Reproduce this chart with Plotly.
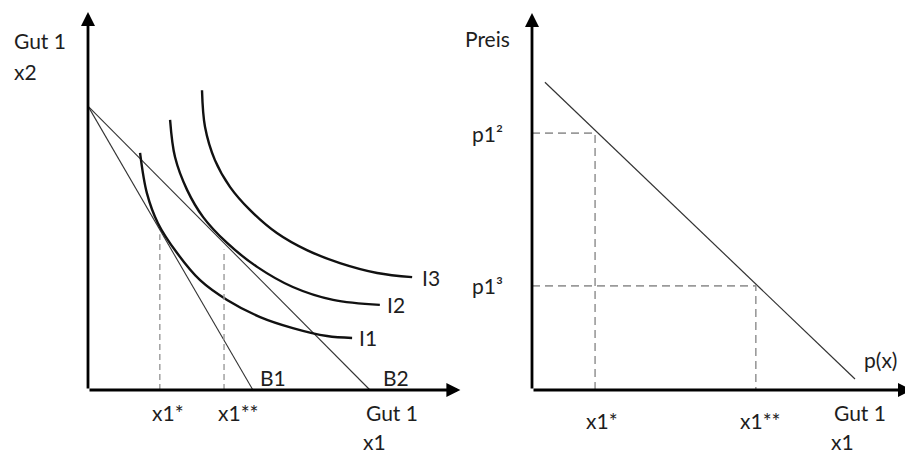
"""Haushaltsoptimum und Nachfragekurve - zwei Skizzen nebeneinander"""

import plotly.graph_objects as go

# linke Skizze: Budgetgeraden
budget_y0 = 7.47
b1_x = 4.34
b2_x = 7.42

i1_x = [1.37, 1.55, 1.84, 2.34, 2.95, 3.66, 4.53, 5.39, 6.29, 6.95]
i1_y = [6.24, 5.18, 4.39, 3.61, 2.89, 2.37, 1.92, 1.63, 1.42, 1.37]
i2_x = [2.16, 2.29, 2.61, 3.03, 3.66, 4.45, 5.39, 6.45, 7.68]
i2_y = [7.11, 6.13, 5.26, 4.55, 3.87, 3.24, 2.71, 2.37, 2.24]
i3_x = [3.00, 3.08, 3.34, 3.74, 4.26, 4.97, 5.76, 6.63, 7.61, 8.53]
i3_y = [7.89, 6.92, 6.05, 5.34, 4.74, 4.13, 3.68, 3.34, 3.08, 2.97]

# Optimalpunkte links
opt_x = [1.89, 3.58]
opt_y = [4.1, 3.7]
opt_labels = ["x1*", "x1**"]

# rechte Skizze: Nachfragekurve p(x)
demand_x = [0.34, 8.5]
demand_y = [8.1, 0.29]
price_x = [1.66, 5.89]
price_y = [6.76, 2.74]
price_labels = ["p1²", "p1³"]
qty_labels = ["x1*", "x1**"]

# Seite hat 8px Rand -> Figur etwas kleiner
W, H = 905, 448
FONT = dict(family="Lato, Carlito, Arial", size=21, color="#1e1e1e")

fig = go.Figure()

# --- links ---
fig.add_trace(go.Scatter(x=[0, b1_x], y=[budget_y0, 0], mode="lines",
                         line=dict(color="#333333", width=1.1), xaxis="x", yaxis="y"))
fig.add_trace(go.Scatter(x=[0, b2_x], y=[budget_y0, 0], mode="lines",
                         line=dict(color="#333333", width=1.1), xaxis="x", yaxis="y"))
for xs, ys in [(i1_x, i1_y), (i2_x, i2_y), (i3_x, i3_y)]:
    fig.add_trace(go.Scatter(x=xs, y=ys, mode="lines",
                             line=dict(color="#111111", width=2.4, shape="spline"),
                             xaxis="x", yaxis="y"))
for ox, oy in zip(opt_x, opt_y):
    fig.add_trace(go.Scatter(x=[ox, ox], y=[0, oy], mode="lines",
                             line=dict(color="#9a9a9a", width=1.4, dash="6px,4px"),
                             xaxis="x", yaxis="y"))

# --- rechts ---
fig.add_trace(go.Scatter(x=demand_x, y=demand_y, mode="lines",
                         line=dict(color="#333333", width=1.2), xaxis="x2", yaxis="y2"))
for px_, py_ in zip(price_x, price_y):
    fig.add_trace(go.Scatter(x=[0, px_, px_], y=[py_, py_, 0], mode="lines",
                             line=dict(color="#9a9a9a", width=1.6, dash="8px,5px"),
                             xaxis="x2", yaxis="y2"))

annotations = []


def axis_arrow(xref, yref, x, y):
    annotations.append(dict(x=x, y=y, ax=0, ay=0, xref=xref, yref=yref,
                            axref=xref, ayref=yref, text="", showarrow=True,
                            arrowhead=2, arrowsize=1, arrowwidth=2.8,
                            arrowcolor="#000000"))


def label(xref, yref, x, y, text, xanchor="center"):
    annotations.append(dict(x=x, y=y, xref=xref, yref=yref, text=text,
                            showarrow=False, xanchor=xanchor, yanchor="middle",
                            font=FONT, borderpad=0))


axis_arrow("x", "y", 9.8, 0)
axis_arrow("x", "y", 0, 9.95)
axis_arrow("x2", "y2", 10.0, 0)
axis_arrow("x2", "y2", 0, 9.92)

# Texte links
label("x", "y", -1.97, 9.2, "Gut 1", "left")
label("x", "y", -1.97, 8.37, "x2", "left")
label("x", "y", 7.1, 1.37, "I1", "left")
label("x", "y", 7.85, 2.24, "I2", "left")
label("x", "y", 8.75, 2.97, "I3", "left")
label("x", "y", 4.5, 0.34, "B1", "left")
label("x", "y", 7.74, 0.34, "B2", "left")
label("x", "y", 2.1, -0.6, opt_labels[0])
label("x", "y", 3.95, -0.6, opt_labels[1])
label("x", "y", 8.0, -0.6, "Gut 1")
label("x", "y", 7.55, -1.36, "x1")

# Texte rechts
label("x2", "y2", -1.18, 9.26, "Preis")
label("x2", "y2", -1.16, price_y[0], price_labels[0])
label("x2", "y2", -1.16, price_y[1], price_labels[1])
label("x2", "y2", 1.84, -0.79, qty_labels[0])
label("x2", "y2", 6.0, -0.79, qty_labels[1])
label("x2", "y2", 8.63, -0.6, "Gut 1")
label("x2", "y2", 8.18, -1.36, "x1")
label("x2", "y2", 9.16, 0.79, "p(x)")

# 38 px je Einheit, Ursprung links bei (88, 390), rechts bei (532, 390)
yrange = [(390 - 456) / 38, (390 - 8) / 38]
split = 470  # Bildschirm-x der Trennung beider Skizzen

fig.update_layout(
    width=W,
    height=H,
    margin=dict(l=0, r=0, t=0, b=0),
    paper_bgcolor="white",
    plot_bgcolor="rgba(0,0,0,0)",
    showlegend=False,
    xaxis=dict(visible=False, fixedrange=True, domain=[0, (split - 8) / W],
               range=[(8 - 88) / 38, (split - 88) / 38]),
    yaxis=dict(visible=False, fixedrange=True, domain=[0, 1], range=yrange),
    xaxis2=dict(visible=False, fixedrange=True, domain=[(split - 8) / W, 1],
                range=[(split - 532) / 38, (913 - 532) / 38], anchor="y2"),
    yaxis2=dict(visible=False, fixedrange=True, domain=[0, 1], range=yrange,
                anchor="x2"),
    annotations=annotations,
)

fig.write_html("out.html", config={"displayModeBar": False})
